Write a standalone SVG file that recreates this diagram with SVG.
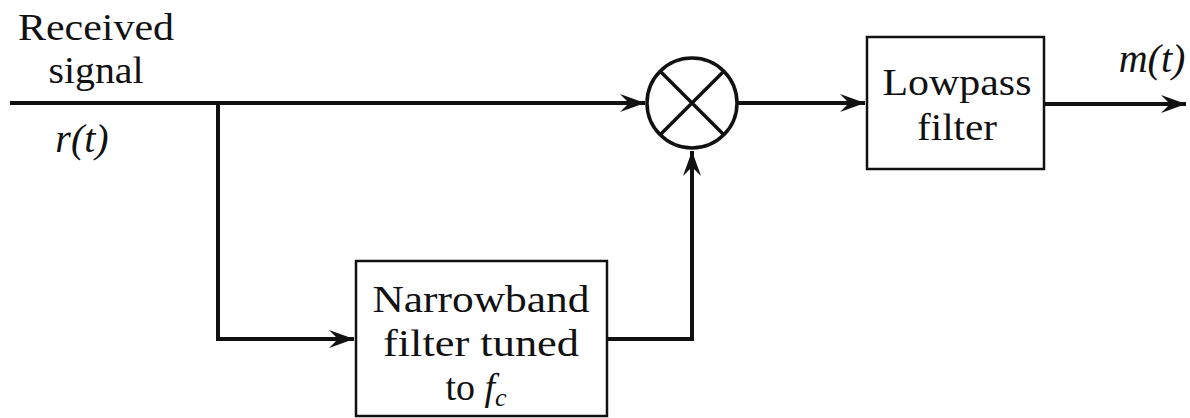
<svg xmlns="http://www.w3.org/2000/svg" width="1190" height="418" viewBox="0 0 1190 418">
<style>
.box{fill:#fff;stroke:#111;stroke-width:2.5}
.w{fill:none;stroke:#111;stroke-width:4;stroke-linejoin:miter}
</style>
<defs>
<marker id="ah" markerUnits="userSpaceOnUse" markerWidth="30" markerHeight="20" viewBox="-26 -10 28 20" refX="0" refY="0" orient="auto">
<path d="M0,0 L-25,-9 L-16,0 L-25,9 Z" fill="#111"/>
</marker>
</defs>
<rect width="1190" height="418" fill="#fff"/>
<g id="connectors">
<path class="w" d="M10,103 H645" marker-end="url(#ah)"/>
<path class="w" d="M218,103 V339 H354" marker-end="url(#ah)"/>
<path class="w" d="M607,339 H692 V151" marker-end="url(#ah)"/>
<path class="w" d="M738,103 H865" marker-end="url(#ah)"/>
<path class="w" d="M1044,104 H1186" marker-end="url(#ah)"/>
</g>
<g id="input-label" fill="#111">
<text style="font-family:'Liberation Serif',serif;font-size:38px" x="96" y="40" text-anchor="middle" textLength="156" lengthAdjust="spacingAndGlyphs">Received</text>
<text style="font-family:'Liberation Serif',serif;font-size:38px" x="96" y="83" text-anchor="middle" textLength="95" lengthAdjust="spacingAndGlyphs">signal</text>
<text style="font-family:'Liberation Serif',serif;font-size:40px;font-style:italic" x="82" y="152" text-anchor="middle">r(t)</text>
</g>
<g id="multiplier">
<circle cx="692" cy="103" r="45" fill="#fff" stroke="#111" stroke-width="3.5"/>
<path d="M660.2,71.2 L723.8,134.8 M723.8,71.2 L660.2,134.8" stroke="#111" stroke-width="3.5"/>
</g>
<g id="lowpass" fill="#111">
<rect class="box" x="867" y="37" width="177" height="132"/>
<text style="font-family:'Liberation Serif',serif;font-size:38px" x="957" y="95" text-anchor="middle" textLength="149" lengthAdjust="spacingAndGlyphs">Lowpass</text>
<text style="font-family:'Liberation Serif',serif;font-size:38px" x="957" y="140" text-anchor="middle" textLength="80" lengthAdjust="spacingAndGlyphs">filter</text>
</g>
<g id="narrowband" fill="#111">
<rect class="box" x="356" y="261" width="251" height="155"/>
<text style="font-family:'Liberation Serif',serif;font-size:38px" x="481" y="312" text-anchor="middle" textLength="217" lengthAdjust="spacingAndGlyphs">Narrowband</text>
<text style="font-family:'Liberation Serif',serif;font-size:38px" x="481" y="356" text-anchor="middle" textLength="196" lengthAdjust="spacingAndGlyphs">filter tuned</text>
<text style="font-family:'Liberation Serif',serif;font-size:38px" x="476" y="400" text-anchor="middle">to <tspan style="font-style:italic">f</tspan><tspan style="font-style:italic;font-size:26px" dy="6">c</tspan></text>
</g>
<g id="output-label" fill="#111">
<text style="font-family:'Liberation Serif',serif;font-size:40px;font-style:italic" x="1152" y="72" text-anchor="middle">m(t)</text>
</g>
</svg>
